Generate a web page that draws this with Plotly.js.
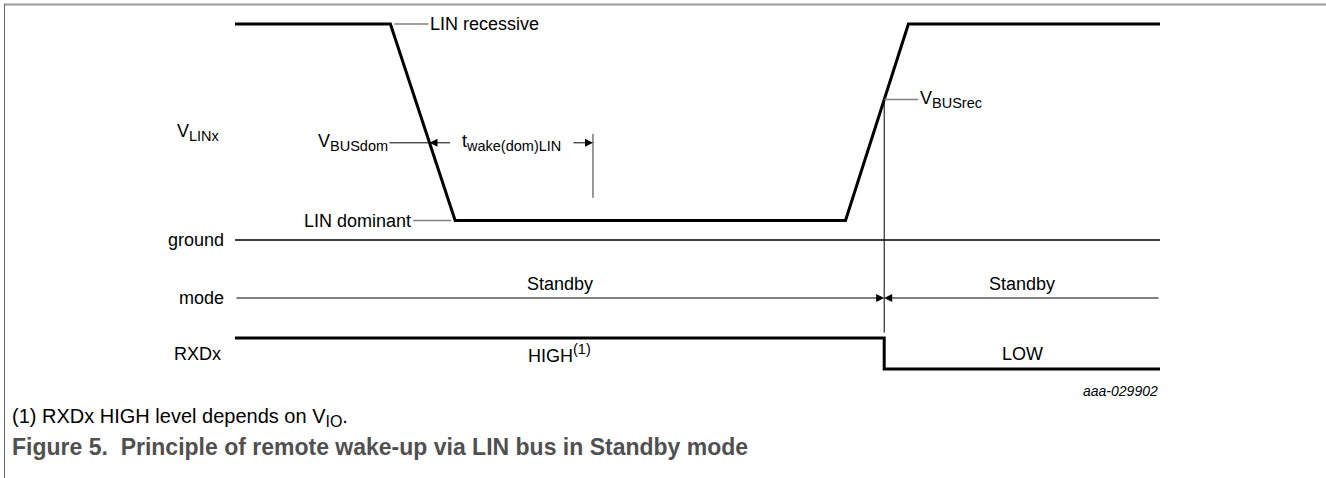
<!DOCTYPE html>
<html><head><meta charset="utf-8">
<script src="https://cdn.plot.ly/plotly-3.0.1.min.js"></script>
<style>html,body{margin:0;padding:0;background:#fff;overflow:hidden}#chart{width:1326px;height:478px}</style>
</head><body><div id="chart"></div>
<script>
// ---------- data (time in arbitrary units 0..100) ----------
const linTime  = [0, 16.8, 23.8, 66.0, 72.8, 100];
const linLevel = [1, 1, 0.09, 0.09, 1, 1];      // normalised LIN voltage: ground 0, recessive 1
const groundTime  = [0, 100];
const groundLevel = [0, 0];
const vBusDom  = 0.45;     // dominant receiver threshold
const vBusRec  = 0.65;     // recessive receiver threshold
const tWakeEnd = 38.7;     // end of t_wake(dom)LIN
const modeLabels = ['Standby', 'Standby'];
const rxdLabels  = ['HIGH', 'LOW'];
const rxdHigh = 1, rxdLow = 0;
const rowLabels = ['V', 'ground', 'mode', 'RXDx'];
const figId = 'aaa-029902';

// ---------- derived points ----------
function crossing(i, level) {
  const t0 = linTime[i], t1 = linTime[i + 1], v0 = linLevel[i], v1 = linLevel[i + 1];
  return t0 + (level - v0) / (v1 - v0) * (t1 - t0);
}
const tDom = crossing(1, vBusDom);
const tRec = crossing(3, vBusRec);
const tStart = linTime[0], tEnd = linTime[linTime.length - 1];

// ---------- layout geometry (pixels) ----------
const W = 1326, H = 478;
const X0 = 235, X1 = 1160;
const sx = (X1 - X0) / (tEnd - tStart);
const xRange = [tStart - X0 / sx, tStart + (W - X0) / sx];
function yr(pxVal0, pxVal1, v0, v1) {   // axis range so v0 sits at pxVal0, v1 at pxVal1
  const k = (v1 - v0) / (pxVal0 - pxVal1);
  return [v0 - (H - pxVal0) * k, v0 + pxVal0 * k];
}
const yLin  = yr(240, 24, 0, 1);
const yMode = yr(298, 198, 0, 1);
const yRxd  = yr(369, 338, rxdLow, rxdHigh);
const px = v => v / W, py = v => 1 - v / H;

const FONT = 'Liberation Sans, Arial, Helvetica, sans-serif';
const fs = 18, subFs = 14.5;
const sub = s => '<sub><span style="font-size:' + subFs + 'px">' + s + '</span></sub>';
const sup = s => '<sup><span style="font-size:' + subFs + 'px">' + s + '</span></sup>';

const footnote = '(1) RXDx HIGH level depends on V<sub><span style="font-size:16px">IO</span></sub>.';
const caption = '<b>Figure 5.  Principle of remote wake-up via LIN bus in Standby mode</b>';

const traces = [
  {x: linTime, y: linLevel, mode: 'lines', line: {color: '#000', width: 3}, yaxis: 'y', hoverinfo: 'skip'},
  {x: groundTime, y: groundLevel, mode: 'lines', line: {color: '#000', width: 1.5}, yaxis: 'y', hoverinfo: 'skip'},
  {x: [tStart, tRec, tRec, tEnd], y: [rxdHigh, rxdHigh, rxdLow, rxdLow], mode: 'lines',
   line: {color: '#000', width: 3}, yaxis: 'y3', hoverinfo: 'skip'}
];

const ann = [];
const txt = (o) => Object.assign({showarrow: false, yanchor: 'middle', xanchor: 'center',
  font: {family: FONT, size: fs, color: '#000'}}, o);
// leaders
ann.push(txt({x: linTime[1], y: linLevel[1], xref: 'x', yref: 'y', text: 'LIN recessive', showarrow: true,
  arrowhead: 0, arrowwidth: 1.5, arrowcolor: '#808080', ax: 38, ay: 0, xanchor: 'left', standoff: 4}));
ann.push(txt({x: linTime[2], y: linLevel[2], xref: 'x', yref: 'y', text: 'LIN dominant', showarrow: true,
  arrowhead: 0, arrowwidth: 1.5, arrowcolor: '#808080', ax: -42, ay: 0, xanchor: 'right', standoff: 4}));
ann.push(txt({x: tDom, y: vBusDom, xref: 'x', yref: 'y', text: 'V' + sub('BUSdom'), showarrow: true,
  arrowhead: 0, arrowwidth: 1, arrowcolor: '#000', ax: -40, ay: 0, xanchor: 'right'}));
ann.push(txt({x: tRec, y: vBusRec, xref: 'x', yref: 'y', text: 'V' + sub('BUSrec'), showarrow: true,
  arrowhead: 0, arrowwidth: 1.5, arrowcolor: '#808080', ax: 34, ay: 0, xanchor: 'left'}));
// t_wake arrows + label
ann.push({x: tDom, y: vBusDom, xref: 'x', yref: 'y', text: '', showarrow: true, arrowhead: 2, arrowsize: 1.6,
  arrowwidth: 1, arrowcolor: '#000', ax: 22, ay: 0});
ann.push({x: tWakeEnd, y: vBusDom, xref: 'x', yref: 'y', text: '', showarrow: true, arrowhead: 2, arrowsize: 1.6,
  arrowwidth: 1, arrowcolor: '#000', ax: -21, ay: 0});
ann.push(txt({x: (tDom + tWakeEnd) / 2, y: vBusDom, xref: 'x', yref: 'y', text: 't' + sub('wake(dom)LIN')}));
// mode arrows
ann.push({x: tRec, y: 0, xref: 'x', yref: 'y2', axref: 'x', ayref: 'y2', ax: tStart, ay: 0, text: '', showarrow: true,
  arrowhead: 2, arrowsize: 1.6, arrowwidth: 1, arrowcolor: '#000'});
ann.push({x: tRec, y: 0, xref: 'x', yref: 'y2', axref: 'x', ayref: 'y2', ax: tEnd, ay: 0, text: '', showarrow: true,
  arrowhead: 2, arrowsize: 1.6, arrowwidth: 1, arrowcolor: '#000'});
ann.push(txt({x: (tStart + tRec) / 2, y: 0, xref: 'x', yref: 'y2', text: modeLabels[0], yshift: 14}));
ann.push(txt({x: (tRec + tEnd) / 2, y: 0, xref: 'x', yref: 'y2', text: modeLabels[1], yshift: 14}));
// RXDx labels
ann.push(txt({x: (tStart + tRec) / 2, y: (rxdHigh + rxdLow) / 2, xref: 'x', yref: 'y3', text: rxdLabels[0] + sup('(1)')}));
ann.push(txt({x: (tRec + tEnd) / 2, y: (rxdHigh + rxdLow) / 2, xref: 'x', yref: 'y3', text: rxdLabels[1]}));
// row labels
ann.push(txt({x: px(198), y: py(133), xref: 'paper', yref: 'paper', xanchor: 'center', text: rowLabels[0] + sub('LINx')}));
ann.push(txt({x: tStart, y: 0, xref: 'x', yref: 'y', xshift: -9, xanchor: 'right', text: rowLabels[1]}));
ann.push(txt({x: tStart, y: 0, xref: 'x', yref: 'y2', xshift: -9, xanchor: 'right', text: rowLabels[2]}));
ann.push(txt({x: tStart, y: (rxdHigh + rxdLow) / 2, xref: 'x', yref: 'y3', xshift: -12, xanchor: 'right', text: rowLabels[3]}));
// figure id
ann.push(txt({x: tEnd, y: rxdLow, xref: 'x', yref: 'y3', xanchor: 'right', yshift: -22, text: '<i>' + figId + '</i>',
  font: {family: FONT, size: 14, color: '#000'}}));
// captions
ann.push(txt({x: px(10), y: py(417), xref: 'paper', yref: 'paper', xanchor: 'left', text: footnote,
  font: {family: FONT, size: 20, color: '#000'}}));
ann.push(txt({x: px(10), y: py(447), xref: 'paper', yref: 'paper', xanchor: 'left', text: caption,
  font: {family: FONT, size: 23, color: '#505050'}}));

const shapes = [
  {type: 'line', xref: 'paper', yref: 'paper', x0: px(4), x1: 1, y0: py(4.5), y1: py(4.5), line: {color: '#9a9a9a', width: 2}},
  {type: 'line', xref: 'paper', yref: 'paper', x0: px(4.5), x1: px(4.5), y0: py(4), y1: 0, line: {color: '#666', width: 1}},
  {type: 'line', xref: 'x', yref: 'y', ysizemode: 'pixel', yanchor: vBusRec, x0: tRec, x1: tRec, y0: 0, y1: -233,
   line: {color: '#000', width: 1}},
  {type: 'line', xref: 'x', yref: 'y', ysizemode: 'pixel', yanchor: vBusDom, x0: tWakeEnd, x1: tWakeEnd, y0: 9, y1: -55,
   line: {color: '#333', width: 1}}
];

const axY = r => ({range: r, visible: false, fixedrange: true, domain: [0, 1]});
const layout = {
  width: W, height: H, autosize: false, showlegend: false,
  margin: {l: 0, r: 0, t: 0, b: 0, pad: 0},
  paper_bgcolor: '#fff', plot_bgcolor: '#fff',
  font: {family: FONT, size: fs, color: '#000'},
  xaxis: {range: xRange, visible: false, fixedrange: true},
  yaxis: axY(yLin),
  yaxis2: Object.assign(axY(yMode), {overlaying: 'y'}),
  yaxis3: Object.assign(axY(yRxd), {overlaying: 'y'}),
  annotations: ann, shapes: shapes
};
Plotly.newPlot('chart', traces, layout, {staticPlot: true, displayModeBar: false});
</script></body></html>
